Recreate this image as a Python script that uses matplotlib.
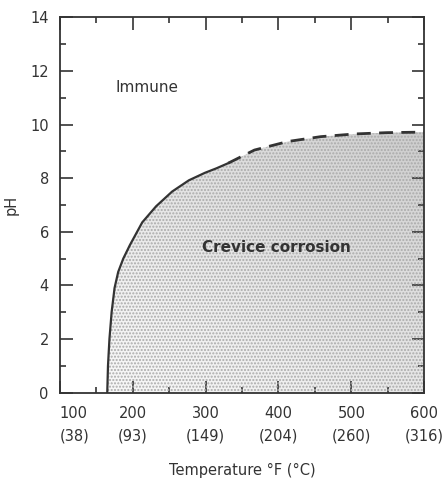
import numpy as np
import matplotlib
matplotlib.use('Agg')
import matplotlib.pyplot as plt
from matplotlib.patches import Polygon

# Boundary between immune and crevice corrosion
solidTemp = [165, 166, 168, 171, 175, 180, 187, 196, 213, 232, 254, 277, 299, 315, 331]
solidPH = [0.0, 1.0, 2.0, 3.0, 3.9, 4.5, 5.0, 5.5, 6.35, 6.95, 7.5, 7.92, 8.2, 8.37, 8.56]
dashTemp = [331, 367, 413, 458, 504, 549, 600]
dashPH = [8.56, 9.05, 9.37, 9.55, 9.65, 9.70, 9.72]

xTicks = [100, 200, 300, 400, 500, 600]
xTickLabels = ['100\n(38)', '200\n(93)', '300\n(149)', '400\n(204)', '500\n(260)', '600\n(316)']
yTicks = [0, 2, 4, 6, 8, 10, 12, 14]

ink = '#333333'

fig = plt.figure(figsize=(4.47, 4.84), dpi=100)
ax = fig.add_axes([0.134, 0.189, 0.815, 0.775])
ax.set_xlim(100, 600)
ax.set_ylim(0, 14)

# shaded crevice corrosion region (lighter towards lower left)
regionT = solidTemp + dashTemp[1:] + [600]
regionP = solidPH + dashPH[1:] + [0]
poly = Polygon(np.column_stack([regionT, regionP]), closed=True,
               facecolor='none', edgecolor='none')
ax.add_patch(poly)
gx, gy = np.meshgrid(np.linspace(0, 1, 200), np.linspace(0, 1, 200))
shade = 0.4 * gx + 0.6 * gy
img = ax.imshow(shade, extent=[100, 600, 0, 14], origin='lower', cmap='Greys',
                vmin=-0.15, vmax=3.0, aspect='auto', zorder=1)
img.set_clip_path(poly)
dots = Polygon(np.column_stack([regionT, regionP]), closed=True,
               facecolor='none', edgecolor='#aaaaaa', hatch='.....', linewidth=0, zorder=2)
ax.add_patch(dots)

ax.plot(solidTemp, solidPH, color=ink, linewidth=1.6, zorder=3)
ax.plot(dashTemp, dashPH, color=ink, linewidth=2.0, linestyle=(0, (5, 3)), zorder=3)

ax.text(220, 11.4, 'Immune', fontsize=11, color=ink, ha='center', va='center')
ax.text(397, 5.4, 'Crevice corrosion', fontsize=11, fontweight='bold', color=ink,
        ha='center', va='center', zorder=4)

ax.set_xticks(xTicks)
ax.set_xticklabels(xTickLabels, fontsize=10.5, color=ink, linespacing=1.6)
ax.get_xticklabels()[0].set_horizontalalignment('left')
ax.set_xticks(np.arange(150, 600, 50), minor=True)
ax.set_yticks(yTicks)
ax.set_yticklabels([str(v) for v in yTicks], fontsize=10.5, color=ink)
ax.set_yticks(np.arange(1, 14, 1), minor=True)
ax.tick_params(which='both', direction='in', top=True, right=True, color=ink, width=1.2)
ax.tick_params(which='major', length=9)
ax.tick_params(axis='x', which='major', pad=10)
ax.tick_params(axis='y', which='major', pad=8)
ax.tick_params(which='minor', length=4)
for s in ax.spines.values():
    s.set_color(ink)
    s.set_linewidth(1.3)

ax.set_xlabel('Temperature °F (°C)', fontsize=10.5, color=ink, labelpad=14)
ax.set_ylabel('pH', fontsize=10.5, color=ink, labelpad=8)

fig.savefig('out.png', dpi=100)
